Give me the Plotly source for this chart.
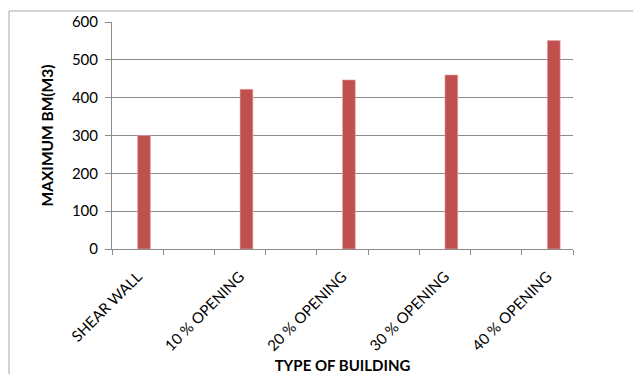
import plotly.graph_objects as go

# Building types and maximum bending moment values
building_types = ["SHEAR WALL", "10 % OPENING", "20 % OPENING", "30 % OPENING", "40 % OPENING"]
max_bm = [300, 422, 447, 460, 551]
y_ticks = [0, 100, 200, 300, 400, 500, 600]

# every other slot on the category axis is left empty
positions = [2 * i for i in range(len(building_types))]

GRID = "#8c8c8c"
FONT = "Lato, 'Open Sans', sans-serif"

fig = go.Figure()
fig.add_trace(go.Bar(
    x=positions,
    y=max_bm,
    width=0.25,
    offset=0,
    marker=dict(color="#C0504D", line=dict(color="#e8a9a7", width=0.6)),
    showlegend=False,
))

W, H = 633, 374
L, R, T, B = 112, 60, 22, 125
pw, ph = W - L - R, H - T - B

fig.update_layout(
    width=W,
    height=H,
    margin=dict(l=L, r=R, t=T, b=B),
    paper_bgcolor="white",
    plot_bgcolor="white",
    font=dict(family=FONT, size=14, color="#000000"),
    xaxis=dict(
        range=[-0.5, 8.5],
        automargin=False,
        tickmode="array",
        tickvals=positions,
        ticktext=building_types,
        tickangle=-45,
        ticks="",
        showgrid=False,
        showline=True,
        linecolor=GRID,
        linewidth=1,
        zeroline=False,
        minor=dict(tick0=-0.5, dtick=1, ticks="outside", ticklen=5,
                   tickcolor=GRID, showgrid=False),
        tickfont=dict(size=15),
        ticklabelstandoff=12,
        title=dict(text="<b>TYPE OF BUILDING</b>", font=dict(size=15), standoff=8),
    ),
    yaxis=dict(
        range=[0, 600],
        automargin=False,
        tickmode="array",
        tickvals=y_ticks,
        ticks="outside",
        ticklen=6,
        tickcolor=GRID,
        showgrid=True,
        gridcolor=GRID,
        gridwidth=1,
        showline=True,
        linecolor=GRID,
        linewidth=1,
        zeroline=False,
        tickfont=dict(size=15),
        ticklabelstandoff=4,
        title=dict(text="<b>MAXIMUM BM(M3)</b>", font=dict(size=15.5), standoff=14),
    ),
    shapes=[dict(
        type="rect", xref="paper", yref="paper",
        x0=(9 - L) / pw, x1=(W + 20 - L) / pw,
        y0=(H - B - (H + 20)) / ph, y1=(H - B - 11) / ph,
        line=dict(color="#a6a6a6", width=1),
        fillcolor="rgba(0,0,0,0)",
        layer="below",
    )],
)

fig.write_html("out.html")
